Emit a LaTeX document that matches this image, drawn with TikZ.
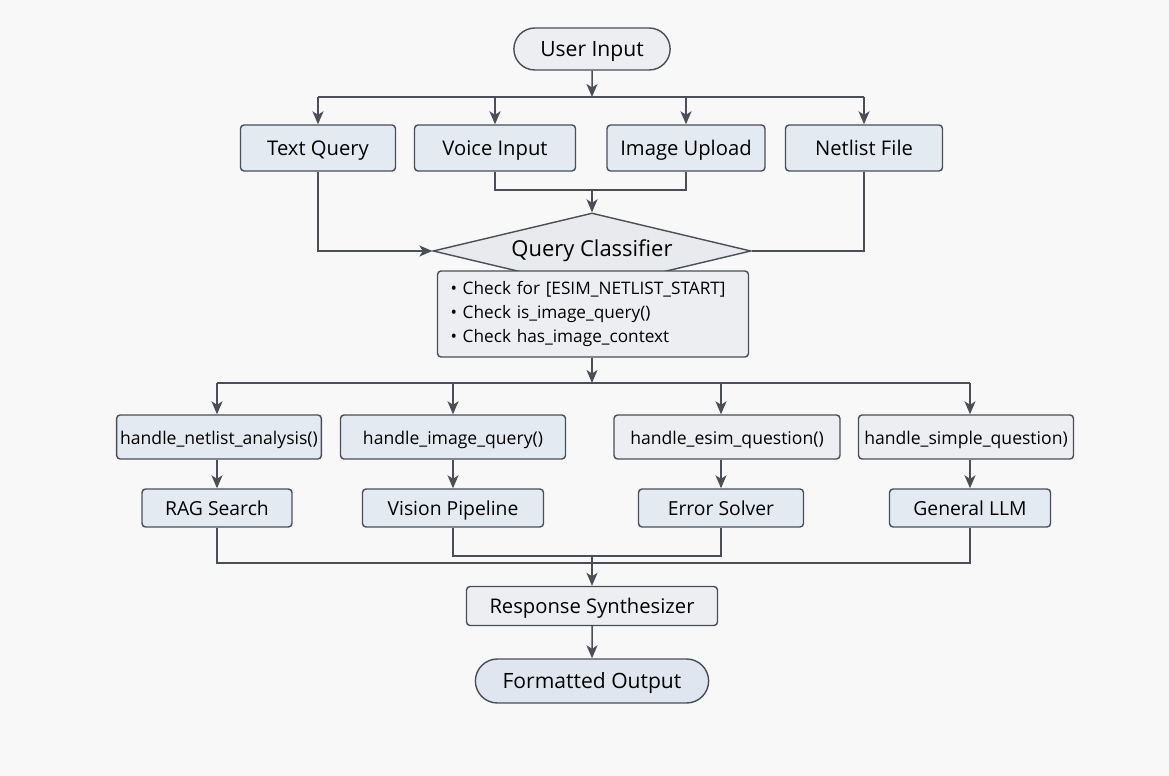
\documentclass[tikz,border=0pt]{standalone}
\usepackage{fontspec}
\setmainfont{Open Sans}
\usepackage{tikz}
\usepackage{xcolor}
\usetikzlibrary{arrows.meta,calc,positioning,shapes.geometric,shapes.misc}

\definecolor{bgcol}{HTML}{F8F8F9}
\definecolor{linecol}{HTML}{4A4E57}
\definecolor{bluefill}{HTML}{E4EAF2}
\definecolor{grayfill}{HTML}{EDEEF1}
\definecolor{diamfill}{HTML}{E9EAED}
\definecolor{outfill}{HTML}{DFE6EF}

\begin{document}
\begin{tikzpicture}[
          x=0.02cm, y=-0.02cm,
          box/.style={draw=linecol, line width=0.8pt, rounded corners=2pt, fill=bluefill, minimum height=0.92cm, inner sep=2pt, text height=0.9em, text depth=0.1em, font=\fontsize{11.5}{13}\selectfont},
          graybox/.style={box, fill=grayfill},
          handler/.style={box, minimum height=0.88cm, font=\fontsize{10}{12}\selectfont},
          result/.style={box, minimum height=0.76cm, font=\fontsize{11}{13}\selectfont},
          term/.style={draw=linecol, line width=0.8pt, rounded rectangle, minimum height=0.84cm, text height=0.9em, text depth=0.1em, font=\fontsize{12}{14}\selectfont},
          ln/.style={draw=linecol, line width=0.85pt},
          arr/.style={ln, -{Stealth[length=2.6mm, width=2.2mm, inset=0.7mm]}}
      ]
        \fill[bgcol] (0,0) rectangle (1169,776);
        \useasboundingbox (0,0) rectangle (1169,776);

        % inputs
        \node[term, fill=grayfill, minimum width=3.36cm] (user) at (592,49) {User Input};
        \node[box, minimum width=3.1cm] (tq) at (318,148) {Text Query};
        \node[box, minimum width=3.22cm] (vi) at (495,148) {Voice Input};
        \node[box, minimum width=3.16cm] (iu) at (686,148) {Image Upload};
        \node[box, minimum width=3.14cm] (nf) at (864,148) {Netlist File};

        % classifier
        \node[diamond, draw=linecol, line width=0.8pt, fill=diamfill, aspect=4.2, inner sep=0pt, minimum width=6.36cm, minimum height=1.52cm, font=\fontsize{12.5}{14}\selectfont] (cls) at (592,251) {\raisebox{2pt}{Query Classifier}};
        \node[graybox, minimum width=6.22cm, minimum height=1.72cm, text width=5.7cm, text height=, text depth=, inner xsep=0.26cm, align=left, font=\fontsize{9.8}{13.6}\selectfont] (chk) at (593,314)
          {\textbullet\ Check for [ESIM\_NETLIST\_START]\\
           \textbullet\ Check is\_image\_query()\\
           \textbullet\ Check has\_image\_context};

        % handlers
        \node[handler, minimum width=4.0cm] (h1) at (219,437) {handle\_netlist\_analysis()};
        \node[handler, minimum width=4.5cm] (h2) at (453,437) {handle\_image\_query()};
        \node[handler, fill=grayfill, minimum width=4.52cm] (h3) at (727,437) {handle\_esim\_question()};
        \node[handler, fill=grayfill, minimum width=4.3cm] (h4) at (966,437) {handle\_simple\_question)};

        \node[result, minimum width=3.0cm] (r1) at (217,508) {RAG Search};
        \node[result, minimum width=3.62cm] (r2) at (453,508) {Vision Pipeline};
        \node[result, minimum width=3.3cm] (r3) at (721,508) {Error Solver};
        \node[result, minimum width=3.22cm] (r4) at (970,508) {General LLM};

        % output
        \node[graybox, minimum width=5.02cm, minimum height=0.78cm] (resp) at (592,606) {Response Synthesizer};
        \node[term, fill=outfill, minimum width=4.9cm, minimum height=0.88cm] (out) at (592,681) {Formatted Output};

        \coordinate (bus1) at (592,97);
        \coordinate (join1) at (592,190);
        \coordinate (bus2) at (592,383);
        \coordinate (join2) at (592,556);
        \coordinate (join3) at (592,563);

        \draw[arr] (user) -- (bus1);
        \draw[ln] (tq.north |- bus1) -- (nf.north |- bus1);
        \foreach \n in {tq,vi,iu,nf}
          \draw[arr] (\n.north |- bus1) -- (\n.north);
        \draw[ln] (vi.south) |- (join1) -| (iu.south);
        \draw[arr] (join1) -- (cls.north);
        \draw[arr] (tq.south) |- (cls.west);
        \draw[ln] (nf.south) |- (cls.east);

        \draw[arr] (chk.south -| bus2) -- (bus2);
        \draw[ln] (r1.north |- bus2) -- (r4.north |- bus2);
        \foreach \h/\r in {h1/r1,h2/r2,h3/r3,h4/r4} {
          \draw[arr] (\r.north |- bus2) -- (\r.north |- \h.north);
          \draw[arr] (\r.north |- \h.south) -- (\r.north);
        }
        \draw[ln] (r2.south) |- (join2) -| (r3.south);
        \draw[ln] (r1.south) |- (join3) -| (r4.south);
        \draw[arr] (join2) -- (resp);
        \draw[arr] (resp) -- (out);
      \end{tikzpicture}
\end{document}
